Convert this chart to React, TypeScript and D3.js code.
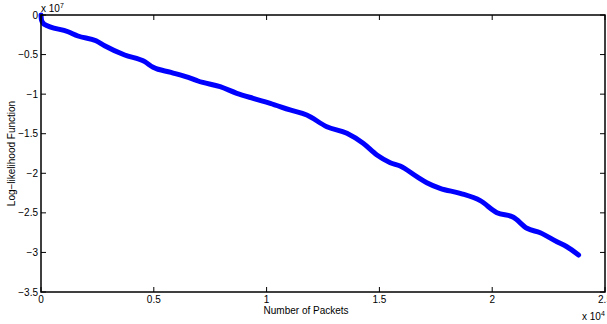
import React, { useEffect, useRef } from "react";
import * as d3 from "d3";

// packets, in units of 1e4
const packets = [
  0, 0.002, 0.009, 0.013, 0.12, 0.164, 0.244, 0.282, 0.371, 0.46, 0.497, 0.576,
  0.665, 0.696, 0.794, 0.868, 0.94, 1.016, 1.104, 1.178, 1.267, 1.356, 1.428,
  1.489, 1.548, 1.592, 1.666, 1.71, 1.769, 1.858, 1.947, 2.021, 2.094, 2.154,
  2.213, 2.287, 2.331, 2.383,
];
// log-likelihood, in units of 1e7
const logLik = [
  0, -0.063, -0.101, -0.114, -0.211, -0.265, -0.325, -0.388, -0.505, -0.59,
  -0.661, -0.724, -0.8, -0.834, -0.906, -0.989, -1.053, -1.116, -1.2, -1.264,
  -1.411, -1.495, -1.621, -1.769, -1.866, -1.908, -2.043, -2.119, -2.19, -2.253,
  -2.346, -2.498, -2.556, -2.695, -2.751, -2.865, -2.928, -3.033,
];
const xTicks = [0, 0.5, 1, 1.5, 2, 2.5];
const yTicks = [0, -0.5, -1, -1.5, -2, -2.5, -3, -3.5];

const App = () => {
  const ref = useRef<SVGSVGElement>(null);

  useEffect(() => {
    const width = 607;
    const height = 324;
    const m = { left: 41, top: 15, right: 605, bottom: 292 };
    const font = "Liberation Sans, Arial, Helvetica, sans-serif";

    const svg = d3.select(ref.current);
    svg.selectAll("*").remove();
    svg.attr("width", width).attr("height", height);

    const x = d3.scaleLinear().domain([0, 2.5]).range([m.left, m.right]);
    const y = d3.scaleLinear().domain([-3.5, 0]).range([m.bottom, m.top]);

    const fmt = (v: number) => (v < 0 ? "\u2212" + String(-v) : String(v));

    // line
    const data = packets.map((p, i) => [p, logLik[i]] as [number, number]);
    svg
      .append("path")
      .datum(data)
      .attr("fill", "none")
      .attr("stroke", "#0000ff")
      .attr("stroke-width", 5)
      .attr("stroke-linejoin", "round")
      .attr("stroke-linecap", "round")
      .attr("d", d3.line<[number, number]>().x((d) => x(d[0])).y((d) => y(d[1])).curve(d3.curveMonotoneX));

    // ticks
    const g = svg.append("g").attr("stroke", "#000").attr("stroke-width", 1);
    xTicks.forEach((t) => {
      g.append("line").attr("x1", x(t)).attr("x2", x(t)).attr("y1", m.bottom).attr("y2", m.bottom - 5);
      g.append("line").attr("x1", x(t)).attr("x2", x(t)).attr("y1", m.top).attr("y2", m.top + 5);
    });
    yTicks.forEach((t) => {
      g.append("line").attr("x1", m.left).attr("x2", m.left + 5).attr("y1", y(t)).attr("y2", y(t));
      g.append("line").attr("x1", m.right).attr("x2", m.right - 5).attr("y1", y(t)).attr("y2", y(t));
    });

    // frame
    svg
      .append("rect")
      .attr("x", m.left)
      .attr("y", m.top)
      .attr("width", m.right - m.left)
      .attr("height", m.bottom - m.top)
      .attr("fill", "none")
      .attr("stroke", "#000")
      .attr("stroke-width", 1.5);

    const txt = svg.append("g").attr("font-family", font).attr("font-size", 10).attr("fill", "#000");

    xTicks.forEach((t) => {
      txt.append("text").attr("x", x(t)).attr("y", 303).attr("text-anchor", "middle").text(fmt(t));
    });
    yTicks.forEach((t) => {
      txt.append("text").attr("x", 38).attr("y", y(t) + 3.5).attr("text-anchor", "end").text(fmt(t));
    });

    // exponent labels
    const e7 = txt.append("text").attr("x", 41).attr("y", 12);
    e7.append("tspan").text("x 10");
    e7.append("tspan").attr("font-size", 7).attr("dy", -4).text("7");
    const e4 = txt.append("text").attr("x", 582).attr("y", 320);
    e4.append("tspan").text("x 10");
    e4.append("tspan").attr("font-size", 7).attr("dy", -4).text("4");

    txt.append("text").attr("x", x(1.175)).attr("y", 314).attr("text-anchor", "middle").text("Number of Packets");
    txt
      .append("text")
      .attr("transform", `translate(15,${(m.top + m.bottom) / 2}) rotate(-90)`)
      .attr("text-anchor", "middle")
      .text("Log\u2212likelihood Function");
  }, []);

  return <svg ref={ref} style={{ position: "absolute", left: 0, top: 0, background: "#fff" }} />;
};

export default App;
